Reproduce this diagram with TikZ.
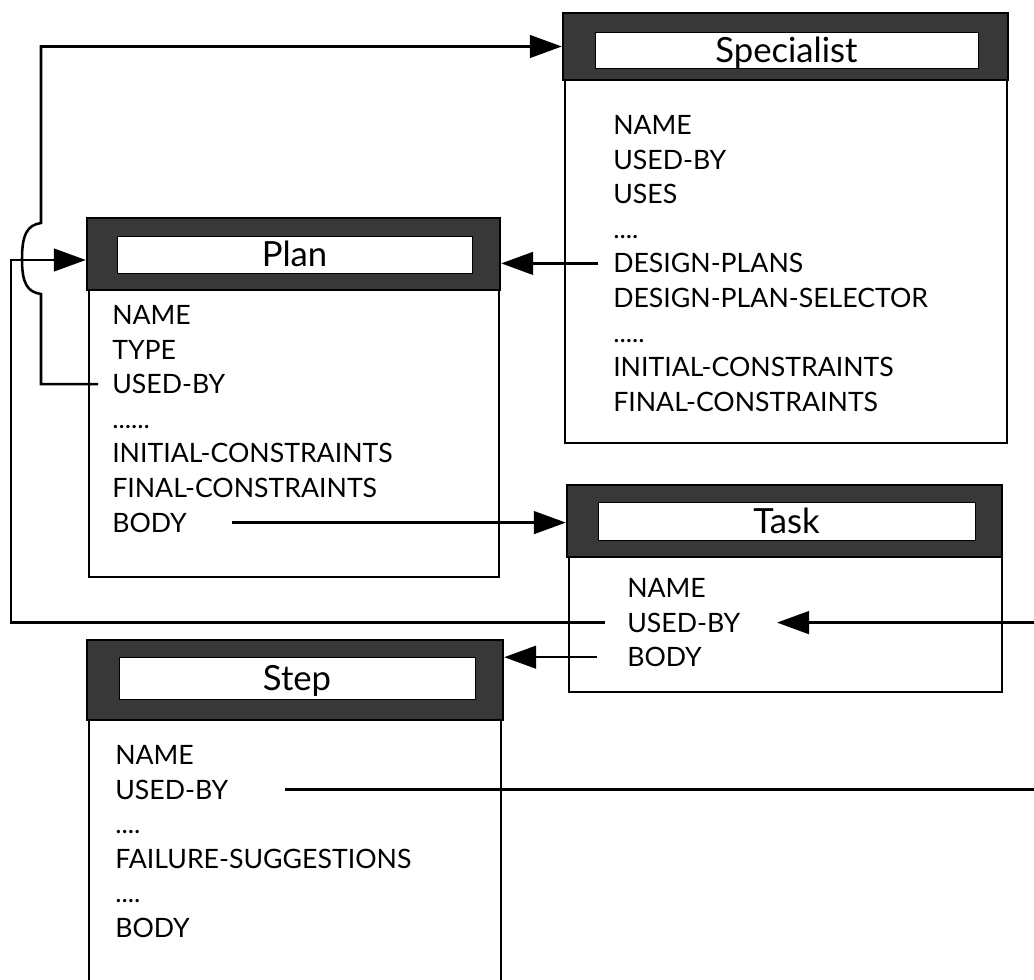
\documentclass[tikz,border=0pt]{standalone}
\usepackage{fontspec}
\setmainfont{Lato}
\usetikzlibrary{arrows.meta,calc,fit}
\begin{document}
\begin{tikzpicture}[x=0.75pt,y=-0.75pt,
  conn/.style={line width=1.9pt},
  arr/.style={conn,-{Triangle[length=24pt,width=17pt]}},
  hdr/.style={draw=black,line width=1.8pt,fill=black!78,inner sep=0pt},
  bar/.style={draw=black,line width=0.6pt,fill=white,inner sep=0pt},
  ttl/.style={font=\fontsize{26}{30}\selectfont,inner sep=0pt,text height=18.6pt,text depth=0pt},
  fld/.style={font=\fontsize{20}{24}\selectfont,anchor=west,inner sep=0pt,text height=14.3pt,text depth=0pt},
  bodybox/.style={draw=black,line width=1.8pt}]
\useasboundingbox (0,0) rectangle (1034,980);

% ---------- Specialist ----------
\draw[bodybox] (565,80) rectangle (1007,443);
\node[hdr,fit={(563,13) (1008,80)}] (specHead) {};
\node[bar,fit={(595,32) (978,68)}] (specBar) {};
\node[ttl] (specTitle) at (specBar.center) {Specialist};
\node[fld] (sName)   at (613,125)   {NAME};
\node[fld] (sUsed)   at (613,159.6) {USED-BY};
\node[fld] (sUses)   at (613,194.2) {USES};
\node[fld] (sDots1)  at (613,228.8) {....};
\node[fld] (sDesign) at (613,263.4) {DESIGN-PLANS};
\node[fld] (sSel)    at (613,298)   {DESIGN-PLAN-SELECTOR};
\node[fld] (sDots2)  at (613,332.6) {.....};
\node[fld] (sInit)   at (613,367.2) {INITIAL-CONSTRAINTS};
\node[fld] (sFinal)  at (613,401.8) {FINAL-CONSTRAINTS};

% ---------- Plan ----------
\draw[bodybox] (89,290) rectangle (499,577);
\node[hdr,fit={(87,218) (500,290)}] (planHead) {};
\node[bar,fit={(117,236) (472,273)}] (planBar) {};
\node[ttl] (planTitle) at (planBar.center) {Plan};
\node[fld] (pName)  at (112,315)   {NAME};
\node[fld] (pType)  at (112,349.6) {TYPE};
\node[fld] (pUsed)  at (112,384.2) {USED-BY};
\node[fld] (pDots)  at (112,418.8) {......};
\node[fld] (pInit)  at (112,453.4) {INITIAL-CONSTRAINTS};
\node[fld] (pFinal) at (112,488)   {FINAL-CONSTRAINTS};
\node[fld] (pBody)  at (112,522.6) {BODY};

% ---------- Task ----------
\draw[bodybox] (569,557) rectangle (1002,692);
\node[hdr,fit={(567,485) (1002,557)}] (taskHead) {};
\node[bar,fit={(598,502) (975,540)}] (taskBar) {};
\node[ttl] (taskTitle) at (taskBar.center) {Task};
\node[fld] (tName) at (627,588)   {NAME};
\node[fld] (tUsed) at (627,622.6) {USED-BY};
\node[fld] (tBody) at (627,657.2) {BODY};

% ---------- Step ----------
\draw[bodybox] (89,990) -- (89,720) -- (501,720) -- (501,990);
\node[hdr,fit={(87,640) (503,720)}] (stepHead) {};
\node[bar,fit={(119,657) (475,699)}] (stepBar) {};
\node[ttl] (stepTitle) at (stepBar.center) {Step};
\node[fld] (stName)  at (115,755)   {NAME};
\node[fld] (stUsed)  at (115,789.6) {USED-BY};
\node[fld] (stDots1) at (115,824.2) {....};
\node[fld] (stFail)  at (115,858.8) {FAILURE-SUGGESTIONS};
\node[fld] (stDots2) at (115,893.4) {....};
\node[fld] (stBody)  at (115,928)   {BODY};

% ---------- connectors ----------
% Plan USED-BY -> Specialist (with hop)
\draw[arr] ($(pUsed.west)+(-14,0)$) -| (41,294)
  .. controls (27,292) and (22,283) .. (22,259)
  .. controls (22,235) and (27,225) .. (41,223)
  |- (specHead.west);
% Task USED-BY -> Plan
\draw[arr] ($(tUsed.west)+(-22,0)$) -| ($(planHead.west)+(-75,6)$) -- ($(planHead.west)+(0,6)$);
% Specialist DESIGN-PLANS -> Plan
\draw[arr] ($(sDesign.west)+(-15,0)$) -- (sDesign.west -| planHead.east);
% Plan BODY -> Task
\draw[arr] ($(pBody.west)+(120,0)$) -- (pBody.west -| taskHead.west);
% Task BODY -> Step
\draw[arr] ($(tBody.west)+(-30,0)$) -- (tBody.west -| stepHead.east);
% Step USED-BY -> Task USED-BY
\coordinate (rightTurn) at ($(stUsed.west)+(925,0)$);
\draw[arr] ($(stUsed.west)+(170,0)$) -- (rightTurn) |- ($(tUsed.west)+(150,0)$);
\end{tikzpicture}
\end{document}
